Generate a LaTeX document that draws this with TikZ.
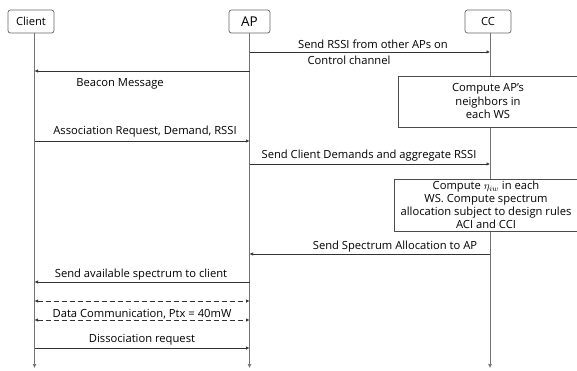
\documentclass[tikz,border=0pt]{standalone}
\usepackage{fontspec}
\setmainfont{Open Sans}
\usetikzlibrary{arrows.meta}
\begin{document}
\begin{tikzpicture}[x=1pt,y=-1pt,
  every node/.style={font=\fontsize{11.2}{13}\selectfont, inner sep=0pt},
  head/.style={draw=black!60, rounded corners=2.5pt, minimum height=23pt, line width=0.7pt},
  life/.style={draw=black!55, line width=0.7pt, -{Latex[length=4pt,width=4pt]}},
  msg/.style={draw=black!80, line width=0.6pt, -{Latex[length=3.5pt,width=3.5pt]}},
  dmsg/.style={draw=black!80, line width=0.6pt, dash pattern=on 5pt off 3pt, {Latex[length=3.5pt,width=3.5pt]}-{Latex[length=3.5pt,width=3.5pt]}},
  proc/.style={draw=black!70, line width=0.7pt, fill=white, align=center},
  lbl/.style={anchor=base}]
\useasboundingbox (0,0) rectangle (577,371);
% headers
\node[head, minimum width=46pt] (client) at (31,21.5) {Client};
\node[head, minimum width=41pt] (ap) at (249.5,21.5) {\fontsize{13.5}{15}\selectfont AP};
\node[head, minimum width=46pt] (cc) at (488,21.5) {CC};
% lifeline coordinates
\coordinate (cT) at (34.5,33); \coordinate (cB) at (34.5,368);
\coordinate (aT) at (249.5,33); \coordinate (aB) at (249.5,368);
\coordinate (kT) at (490,33); \coordinate (kB) at (490,368);
\draw[life] (cT) -- (cB);
\draw[life] (aT) -- (aB);
\draw[life] (kT) -- (kB);
% message endpoints
\foreach \n/\y in {1/52,2/71,3/141,4/164,5/254,6/282,7/301,8/320,9/348}{
  \coordinate (c\n) at (34.5,\y);
  \coordinate (a\n) at (249.5,\y);
  \coordinate (k\n) at (490,\y);
}
% process boxes
\node[proc, minimum width=180pt, minimum height=51pt, font=\fontsize{11.2}{13.5}\selectfont] (p1) at (488,101.5) {Compute AP's\\neighbors in\\each WS};
\node[proc, minimum width=184pt, minimum height=52pt, inner xsep=2pt, font=\fontsize{11.2}{13}\selectfont] (p2) at (486,205) {Compute $\eta_{iw}$ in each\\WS. Compute spectrum\\allocation subject to design rules\\ACI and CCI};
% messages
\draw[msg] (a1) -- (k1);
\node[lbl] (t1) at (373,49) {Send RSSI from other APs on};
\node[lbl] (t1b) at (349,65) {Control channel};
\draw[msg] (a2) -- (c2);
\node[lbl] (t2) at (120,87) {Beacon Message};
\draw[msg] (c3) -- (a3);
\node[lbl] (t3) at (145,135) {Association Request, Demand, RSSI};
\draw[msg] (a4) -- (k4);
\node[lbl] (t4) at (369,159) {Send Client Demands and aggregate RSSI};
\draw[msg] (k5) -- (a5);
\node[lbl] (t5) at (395,249.5) {Send Spectrum Allocation to AP};
\draw[msg] (a6) -- (c6);
\node[lbl] (t6) at (141,277.5) {Send available spectrum to client};
\draw[dmsg] (c7) -- (a7);
\node[lbl] (t7) at (142,317) {Data Communication, Ptx = 40mW};
\draw[dmsg] (c8) -- (a8);
\node[lbl] (t8) at (142,342) {Dissociation request};
\draw[msg] (c9) -- (a9);
\end{tikzpicture}
\end{document}
